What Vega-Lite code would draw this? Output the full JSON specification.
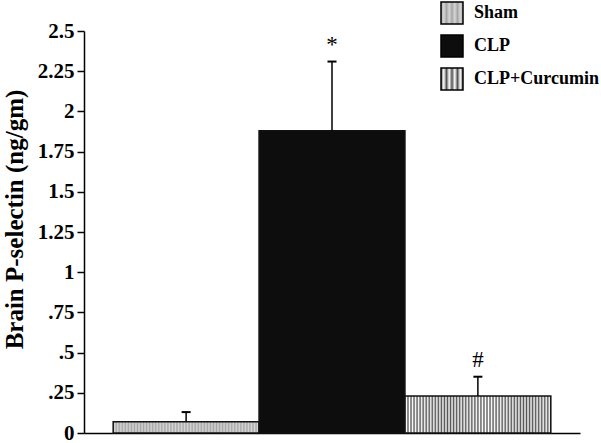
{
  "$schema": "https://vega.github.io/schema/vega-lite/v6.json",
  "width": 496,
  "height": 402,
  "autosize": {"type": "none"},
  "padding": {"left": 84, "top": 31, "right": 21, "bottom": 10},
  "background": "white",
  "config": {"view": {"stroke": null}, "font": "Liberation Serif"},
  "data": {"values": [
    {"group": "Sham", "mean": 0.07, "upper": 0.13, "note": ""},
    {"group": "CLP", "mean": 1.88, "upper": 2.31, "note": "*"},
    {"group": "CLP+Curcumin", "mean": 0.23, "upper": 0.35, "note": "#"}
  ]},
  "encoding": {
    "x": {
      "field": "group", "type": "nominal",
      "sort": ["Sham", "CLP", "CLP+Curcumin"],
      "scale": {"paddingInner": 0, "paddingOuter": 0.2},
      "axis": {"labels": false, "ticks": false, "title": null, "domainColor": "black", "domainWidth": 1.5}
    }
  },
  "layer": [
    {
      "mark": {"type": "bar", "stroke": "#111", "strokeWidth": 1.5, "opacity": 1},
      "encoding": {
        "y": {
          "field": "mean", "type": "quantitative",
          "scale": {"domain": [0, 2.5], "nice": false},
          "axis": {
            "values": [0, 0.25, 0.5, 0.75, 1, 1.25, 1.5, 1.75, 2, 2.25, 2.5],
            "labelExpr": "datum.value > 0 && datum.value < 1 ? substring(toString(datum.value), 1) : toString(datum.value)",
            "grid": false,
            "title": "Brain P-selectin (ng/gm)",
            "titleFont": "Liberation Serif", "titleFontSize": 25, "titleFontWeight": "bold", "titleColor": "black",
            "titleX": -57, "titleY": 188,
            "labelFont": "Liberation Serif", "labelFontSize": 21, "labelFontWeight": "bold", "labelColor": "black", "labelPadding": 3,
            "tickColor": "black", "tickSize": 7, "tickWidth": 1.5,
            "domainColor": "black", "domainWidth": 1.5
          }
        },
        "fill": {
          "field": "group", "type": "nominal",
          "scale": {"domain": ["Sham", "CLP", "CLP+Curcumin"], "range": [
            {"expr": "{gradient:'linear',x1:0,y1:0,x2:1,y2:0,stops:[{offset:0,color:'#a6a6a6'},{offset:0.0104,color:'#d6d6d6'},{offset:0.0208,color:'#a6a6a6'},{offset:0.0313,color:'#d6d6d6'},{offset:0.0417,color:'#a6a6a6'},{offset:0.0521,color:'#d6d6d6'},{offset:0.0625,color:'#a6a6a6'},{offset:0.0729,color:'#d6d6d6'},{offset:0.0833,color:'#a6a6a6'},{offset:0.0938,color:'#d6d6d6'},{offset:0.1042,color:'#a6a6a6'},{offset:0.1146,color:'#d6d6d6'},{offset:0.125,color:'#a6a6a6'},{offset:0.1354,color:'#d6d6d6'},{offset:0.1458,color:'#a6a6a6'},{offset:0.1563,color:'#d6d6d6'},{offset:0.1667,color:'#a6a6a6'},{offset:0.1771,color:'#d6d6d6'},{offset:0.1875,color:'#a6a6a6'},{offset:0.1979,color:'#d6d6d6'},{offset:0.2083,color:'#a6a6a6'},{offset:0.2188,color:'#d6d6d6'},{offset:0.2292,color:'#a6a6a6'},{offset:0.2396,color:'#d6d6d6'},{offset:0.25,color:'#a6a6a6'},{offset:0.2604,color:'#d6d6d6'},{offset:0.2708,color:'#a6a6a6'},{offset:0.2813,color:'#d6d6d6'},{offset:0.2917,color:'#a6a6a6'},{offset:0.3021,color:'#d6d6d6'},{offset:0.3125,color:'#a6a6a6'},{offset:0.3229,color:'#d6d6d6'},{offset:0.3333,color:'#a6a6a6'},{offset:0.3438,color:'#d6d6d6'},{offset:0.3542,color:'#a6a6a6'},{offset:0.3646,color:'#d6d6d6'},{offset:0.375,color:'#a6a6a6'},{offset:0.3854,color:'#d6d6d6'},{offset:0.3958,color:'#a6a6a6'},{offset:0.4063,color:'#d6d6d6'},{offset:0.4167,color:'#a6a6a6'},{offset:0.4271,color:'#d6d6d6'},{offset:0.4375,color:'#a6a6a6'},{offset:0.4479,color:'#d6d6d6'},{offset:0.4583,color:'#a6a6a6'},{offset:0.4688,color:'#d6d6d6'},{offset:0.4792,color:'#a6a6a6'},{offset:0.4896,color:'#d6d6d6'},{offset:0.5,color:'#a6a6a6'},{offset:0.5104,color:'#d6d6d6'},{offset:0.5208,color:'#a6a6a6'},{offset:0.5313,color:'#d6d6d6'},{offset:0.5417,color:'#a6a6a6'},{offset:0.5521,color:'#d6d6d6'},{offset:0.5625,color:'#a6a6a6'},{offset:0.5729,color:'#d6d6d6'},{offset:0.5833,color:'#a6a6a6'},{offset:0.5938,color:'#d6d6d6'},{offset:0.6042,color:'#a6a6a6'},{offset:0.6146,color:'#d6d6d6'},{offset:0.625,color:'#a6a6a6'},{offset:0.6354,color:'#d6d6d6'},{offset:0.6458,color:'#a6a6a6'},{offset:0.6563,color:'#d6d6d6'},{offset:0.6667,color:'#a6a6a6'},{offset:0.6771,color:'#d6d6d6'},{offset:0.6875,color:'#a6a6a6'},{offset:0.6979,color:'#d6d6d6'},{offset:0.7083,color:'#a6a6a6'},{offset:0.7188,color:'#d6d6d6'},{offset:0.7292,color:'#a6a6a6'},{offset:0.7396,color:'#d6d6d6'},{offset:0.75,color:'#a6a6a6'},{offset:0.7604,color:'#d6d6d6'},{offset:0.7708,color:'#a6a6a6'},{offset:0.7813,color:'#d6d6d6'},{offset:0.7917,color:'#a6a6a6'},{offset:0.8021,color:'#d6d6d6'},{offset:0.8125,color:'#a6a6a6'},{offset:0.8229,color:'#d6d6d6'},{offset:0.8333,color:'#a6a6a6'},{offset:0.8438,color:'#d6d6d6'},{offset:0.8542,color:'#a6a6a6'},{offset:0.8646,color:'#d6d6d6'},{offset:0.875,color:'#a6a6a6'},{offset:0.8854,color:'#d6d6d6'},{offset:0.8958,color:'#a6a6a6'},{offset:0.9063,color:'#d6d6d6'},{offset:0.9167,color:'#a6a6a6'},{offset:0.9271,color:'#d6d6d6'},{offset:0.9375,color:'#a6a6a6'},{offset:0.9479,color:'#d6d6d6'},{offset:0.9583,color:'#a6a6a6'},{offset:0.9688,color:'#d6d6d6'},{offset:0.9792,color:'#a6a6a6'},{offset:0.9896,color:'#d6d6d6'},{offset:1,color:'#a6a6a6'}]}"},
            "#0d0d0d",
            {"expr": "{gradient:'linear',x1:0,y1:0,x2:1,y2:0,stops:[{offset:0,color:'#555'},{offset:0.0104,color:'#fff'},{offset:0.0208,color:'#555'},{offset:0.0313,color:'#fff'},{offset:0.0417,color:'#555'},{offset:0.0521,color:'#fff'},{offset:0.0625,color:'#555'},{offset:0.0729,color:'#fff'},{offset:0.0833,color:'#555'},{offset:0.0938,color:'#fff'},{offset:0.1042,color:'#555'},{offset:0.1146,color:'#fff'},{offset:0.125,color:'#555'},{offset:0.1354,color:'#fff'},{offset:0.1458,color:'#555'},{offset:0.1563,color:'#fff'},{offset:0.1667,color:'#555'},{offset:0.1771,color:'#fff'},{offset:0.1875,color:'#555'},{offset:0.1979,color:'#fff'},{offset:0.2083,color:'#555'},{offset:0.2188,color:'#fff'},{offset:0.2292,color:'#555'},{offset:0.2396,color:'#fff'},{offset:0.25,color:'#555'},{offset:0.2604,color:'#fff'},{offset:0.2708,color:'#555'},{offset:0.2813,color:'#fff'},{offset:0.2917,color:'#555'},{offset:0.3021,color:'#fff'},{offset:0.3125,color:'#555'},{offset:0.3229,color:'#fff'},{offset:0.3333,color:'#555'},{offset:0.3438,color:'#fff'},{offset:0.3542,color:'#555'},{offset:0.3646,color:'#fff'},{offset:0.375,color:'#555'},{offset:0.3854,color:'#fff'},{offset:0.3958,color:'#555'},{offset:0.4063,color:'#fff'},{offset:0.4167,color:'#555'},{offset:0.4271,color:'#fff'},{offset:0.4375,color:'#555'},{offset:0.4479,color:'#fff'},{offset:0.4583,color:'#555'},{offset:0.4688,color:'#fff'},{offset:0.4792,color:'#555'},{offset:0.4896,color:'#fff'},{offset:0.5,color:'#555'},{offset:0.5104,color:'#fff'},{offset:0.5208,color:'#555'},{offset:0.5313,color:'#fff'},{offset:0.5417,color:'#555'},{offset:0.5521,color:'#fff'},{offset:0.5625,color:'#555'},{offset:0.5729,color:'#fff'},{offset:0.5833,color:'#555'},{offset:0.5938,color:'#fff'},{offset:0.6042,color:'#555'},{offset:0.6146,color:'#fff'},{offset:0.625,color:'#555'},{offset:0.6354,color:'#fff'},{offset:0.6458,color:'#555'},{offset:0.6563,color:'#fff'},{offset:0.6667,color:'#555'},{offset:0.6771,color:'#fff'},{offset:0.6875,color:'#555'},{offset:0.6979,color:'#fff'},{offset:0.7083,color:'#555'},{offset:0.7188,color:'#fff'},{offset:0.7292,color:'#555'},{offset:0.7396,color:'#fff'},{offset:0.75,color:'#555'},{offset:0.7604,color:'#fff'},{offset:0.7708,color:'#555'},{offset:0.7813,color:'#fff'},{offset:0.7917,color:'#555'},{offset:0.8021,color:'#fff'},{offset:0.8125,color:'#555'},{offset:0.8229,color:'#fff'},{offset:0.8333,color:'#555'},{offset:0.8438,color:'#fff'},{offset:0.8542,color:'#555'},{offset:0.8646,color:'#fff'},{offset:0.875,color:'#555'},{offset:0.8854,color:'#fff'},{offset:0.8958,color:'#555'},{offset:0.9063,color:'#fff'},{offset:0.9167,color:'#555'},{offset:0.9271,color:'#fff'},{offset:0.9375,color:'#555'},{offset:0.9479,color:'#fff'},{offset:0.9583,color:'#555'},{offset:0.9688,color:'#fff'},{offset:0.9792,color:'#555'},{offset:0.9896,color:'#fff'},{offset:1,color:'#555'}]}"}
          ]},
          "legend": {
            "orient": "none", "legendX": 356, "legendY": -30, "title": null,
            "symbolType": "square", "symbolSize": 484, "symbolStrokeColor": "black", "symbolStrokeWidth": 1.5, "symbolOpacity": 1,
            "labelFont": "Liberation Serif", "labelFontWeight": "bold", "labelFontSize": 18, "labelColor": "black",
            "rowPadding": 5, "labelOffset": 10, "padding": 0
          }
        }
      }
    },
    {
      "mark": {"type": "rule", "color": "black", "strokeWidth": 1.5},
      "encoding": {
        "y": {"field": "mean", "type": "quantitative"},
        "y2": {"field": "upper"}
      }
    },
    {
      "mark": {"type": "tick", "color": "black", "thickness": 2, "size": 9, "opacity": 1},
      "encoding": {"y": {"field": "upper", "type": "quantitative"}}
    },
    {
      "mark": {"type": "text", "baseline": "bottom", "dy": -5, "fontSize": 23, "color": "black", "font": "Liberation Serif"},
      "encoding": {
        "y": {"field": "upper", "type": "quantitative"},
        "text": {"field": "note"}
      }
    }
  ]
}
